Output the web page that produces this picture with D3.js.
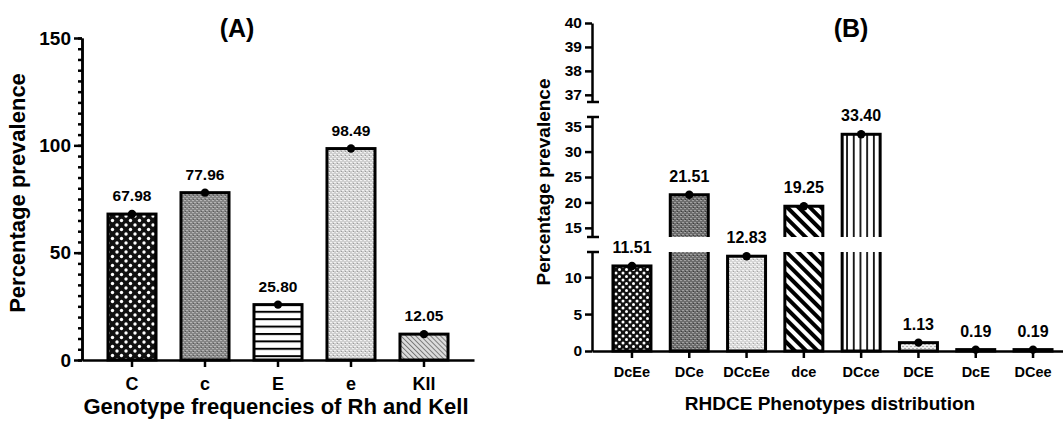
<!DOCTYPE html>
<html>
<head>
<meta charset="utf-8">
<title>Rh and Kell prevalence</title>
<script src="https://cdn.jsdelivr.net/npm/d3@7"></script>
<style>
  body { margin: 0; background: white; }
  text { font-family: "Liberation Sans", Arial, sans-serif; font-weight: bold; fill: black; }
  .axis path, .axis line { stroke: black; stroke-width: 2.5; }
</style>
</head>
<body>
<script>
// (A) genotype frequencies
const genoLabels = ['C', 'c', 'E', 'e', 'Kll'];
const genoValues = [67.98, 77.96, 25.80, 98.49, 12.05];
const genoFills  = ['dotsA', 'grayMid', 'hstripe', 'grayLight', 'hatchGray'];
const genoTicks  = [0, 50, 100, 150];

// (B) RHDCE phenotypes
const phenoLabels = ['DcEe', 'DCe', 'DCcEe', 'dce', 'DCce', 'DCE', 'DcE', 'DCee'];
const phenoValues = [11.51, 21.51, 12.83, 19.25, 33.40, 1.13, 0.19, 0.19];
const phenoFills  = ['dotsB', 'grayDark', 'grayLight2', 'diagBlack', 'vlines', 'paleDash', 'paleDash', 'paleDash'];
const lowTicks = [0, 5, 10];
const midTicks = [15, 20, 25, 30, 35];
const topTicks = [37, 38, 39, 40];

const W = 1063, H = 424;
const svg = d3.select('body').append('svg').attr('width', W).attr('height', H);
const defs = svg.append('defs');

// ---- patterns ----
function pat(id, w, h, transform) {
  const p = defs.append('pattern').attr('id', id).attr('patternUnits', 'userSpaceOnUse')
    .attr('width', w).attr('height', h);
  if (transform) p.attr('patternTransform', transform);
  return p;
}
function dots(id, s, r) {
  const p = pat(id, s, s);
  p.append('rect').attr('width', s).attr('height', s).attr('fill', '#111');
  [[0, 0], [s, 0], [0, s], [s, s], [s / 2, s / 2]].forEach(([x, y]) =>
    p.append('circle').attr('cx', x).attr('cy', y).attr('r', r).attr('fill', 'white'));
}
dots('dotsA', 9, 1.7);
dots('dotsB', 7, 1.5);

function speckle(id, bg, fg, fg2) {
  const p = pat(id, 4, 4);
  p.append('rect').attr('width', 4).attr('height', 4).attr('fill', bg);
  p.append('rect').attr('x', 0).attr('y', 0).attr('width', 2).attr('height', 1).attr('fill', fg);
  p.append('rect').attr('x', 2).attr('y', 2).attr('width', 2).attr('height', 1).attr('fill', fg);
  if (fg2) p.append('rect').attr('x', 1).attr('y', 3).attr('width', 1).attr('height', 1).attr('fill', fg2);
}
speckle('grayMid', '#858585', '#b4b4b4', '#5a5a5a');
speckle('grayLight', '#cfcfcf', '#f2f2f2', '#9a9a9a');
speckle('grayDark', '#6c6c6c', '#a0a0a0', '#3c3c3c');
speckle('grayLight2', '#d6d6d6', '#f4f4f4', '#a4a4a4');
speckle('paleDash', '#eeeeee', '#b0b0b0');

(function () {
  const p = pat('hstripe', 8, 7.4);
  p.append('rect').attr('width', 8).attr('height', 7.4).attr('fill', 'white');
  p.append('rect').attr('width', 8).attr('height', 2).attr('fill', 'black');
})();
(function () {
  const p = pat('hatchGray', 3.5, 3.5, 'rotate(-45)');
  p.append('rect').attr('width', 3.5).attr('height', 3.5).attr('fill', '#dedede');
  p.append('rect').attr('width', 1).attr('height', 3.5).attr('fill', '#777');
})();
(function () {
  const p = pat('diagBlack', 8, 8, 'rotate(-45)');
  p.append('rect').attr('width', 8).attr('height', 8).attr('fill', 'white');
  p.append('rect').attr('width', 4).attr('height', 8).attr('fill', 'black');
})();
(function () {
  const p = pat('vlines', 6.7, 10);
  p.append('rect').attr('width', 6.7).attr('height', 10).attr('fill', 'white');
  p.append('rect').attr('x', 2).attr('width', 1.7).attr('height', 10).attr('fill', 'black');
})();

// ================= Panel A =================
const xA = d3.scaleBand().domain(genoLabels).range([82, 474]).paddingInner(0.342).paddingOuter(0.356);
const yA = d3.scaleLinear().domain([0, 150]).range([360, 38]);
const gA = svg.append('g');

gA.selectAll('rect.bar').data(genoLabels).join('rect')
  .attr('class', 'bar')
  .attr('x', d => xA(d)).attr('width', xA.bandwidth())
  .attr('y', (d, i) => yA(genoValues[i]))
  .attr('height', (d, i) => yA(0) - yA(genoValues[i]))
  .attr('fill', (d, i) => `url(#${genoFills[i]})`)
  .attr('stroke', 'black').attr('stroke-width', 3);

gA.append('g').attr('class', 'axis').attr('transform', 'translate(82,0)')
  .call(d3.axisLeft(yA).tickValues(d3.range(0, 151, 5)).tickSize(4).tickSizeOuter(0).tickFormat(''))
  .call(g => g.selectAll('line').attr('stroke-width', 1.8));
gA.append('g').attr('class', 'axis').attr('transform', 'translate(82,0)')
  .call(d3.axisLeft(yA).tickValues(genoTicks).tickSize(8).tickSizeOuter(0).tickPadding(3))
  .call(g => g.selectAll('text').style('font-size', '19px').style('font-family', null));
gA.append('g').attr('class', 'axis').attr('transform', `translate(0,${yA(0)})`)
  .call(d3.axisBottom(xA).tickSize(7).tickSizeOuter(0).tickPadding(10))
  .call(g => g.selectAll('text').style('font-size', '18px').style('font-family', null));

gA.selectAll('circle.pt').data(genoLabels).join('circle')
  .attr('class', 'pt')
  .attr('cx', d => xA(d) + xA.bandwidth() / 2)
  .attr('cy', (d, i) => yA(genoValues[i])).attr('r', 4.2).attr('fill', 'black');
gA.selectAll('text.val').data(genoLabels).join('text')
  .attr('class', 'val').attr('text-anchor', 'middle').style('font-size', '15.5px')
  .attr('x', d => xA(d) + xA.bandwidth() / 2)
  .attr('y', (d, i) => yA(genoValues[i]) - 13)
  .text((d, i) => genoValues[i].toFixed(2));

gA.append('text').attr('x', 237).attr('y', 37).attr('text-anchor', 'middle')
  .style('font-size', '25px').text('(A)');
gA.append('text').attr('x', 276).attr('y', 414).attr('text-anchor', 'middle')
  .style('font-size', '22px').text('Genotype frequencies of Rh and Kell');
gA.append('text').attr('transform', 'translate(25,193) rotate(-90)').attr('text-anchor', 'middle')
  .style('font-size', '22px').text('Percentage prevalence');

// ================= Panel B =================
const axB = 592;
const xB = d3.scaleBand().domain(phenoLabels).range([axB, 1073]).paddingInner(0.337).paddingOuter(0.366);
const yLow = d3.scaleLinear().domain([0, 13.4]).range([351, 252]);
const yMid = d3.scaleLinear().domain([13.2, 36.8]).range([237, 117]);
const yTop = d3.scaleLinear().domain([36.7, 40]).range([102, 23]);
const segs = [
  { id: 'clipLow', s: yLow, ticks: lowTicks, clipTop: yLow.range()[1], clipBot: yLow.range()[0] + 3 },
  { id: 'clipMid', s: yMid, ticks: midTicks, clipTop: yMid.range()[1] - 3, clipBot: yMid.range()[0] },
  { id: 'clipTop', s: yTop, ticks: topTicks, clipTop: yTop.range()[1] - 3, clipBot: yTop.range()[0] }
];
const gB = svg.append('g');

segs.forEach(seg => {
  defs.append('clipPath').attr('id', seg.id).append('rect')
    .attr('x', axB).attr('width', W - axB)
    .attr('y', seg.clipTop).attr('height', seg.clipBot - seg.clipTop);
  const lo = seg.s.domain()[0];
  const inSeg = phenoLabels.filter((d, i) => phenoValues[i] > lo);
  gB.append('g').attr('clip-path', `url(#${seg.id})`)
    .selectAll('rect').data(inSeg).join('rect')
    .attr('x', d => xB(d)).attr('width', xB.bandwidth())
    .attr('y', d => seg.s(phenoValues[phenoLabels.indexOf(d)]))
    .attr('height', d => Math.max(0, (lo === 0 ? seg.s(0) : seg.clipBot + 10) - seg.s(phenoValues[phenoLabels.indexOf(d)])))
    .attr('fill', d => `url(#${phenoFills[phenoLabels.indexOf(d)]})`)
    .attr('stroke', 'black').attr('stroke-width', 3);

  gB.append('g').attr('class', 'axis').attr('transform', `translate(${axB},0)`)
    .call(d3.axisLeft(seg.s).tickValues(seg.ticks).tickFormat(d3.format('d'))
      .tickSize(7).tickSizeOuter(0).tickPadding(3))
    .call(g => g.selectAll('text').style('font-size', '15.5px').style('font-family', null));
});

// break caps on the y axis
const caps = [yTop.range()[0], yMid.range()[1], yMid.range()[0], yLow.range()[1]];
gB.selectAll('line.cap').data(caps).join('line').attr('class', 'cap')
  .attr('x1', axB - 5).attr('x2', axB + 7).attr('y1', d => d).attr('y2', d => d)
  .attr('stroke', 'black').attr('stroke-width', 2.5);

gB.append('g').attr('class', 'axis').attr('transform', `translate(0,${yLow(0)})`)
  .call(d3.axisBottom(xB).tickSize(7).tickSizeOuter(0).tickPadding(9))
  .call(g => g.selectAll('text').style('font-size', '14.5px').style('font-family', null));

function yB(v) { return v > 36.7 ? yTop(v) : v > 13.4 ? yMid(v) : yLow(v); }
gB.selectAll('circle.pt').data(phenoLabels).join('circle')
  .attr('class', 'pt')
  .attr('cx', d => xB(d) + xB.bandwidth() / 2)
  .attr('cy', (d, i) => yB(phenoValues[i])).attr('r', 4.2).attr('fill', 'black');
gB.selectAll('text.val').data(phenoLabels).join('text')
  .attr('class', 'val').attr('text-anchor', 'middle').style('font-size', '16px')
  .attr('x', d => xB(d) + xB.bandwidth() / 2)
  .attr('y', (d, i) => yB(phenoValues[i]) - 13)
  .text((d, i) => phenoValues[i].toFixed(2));

gB.append('text').attr('x', 851).attr('y', 37).attr('text-anchor', 'middle')
  .style('font-size', '25px').text('(B)');
gB.append('text').attr('x', 830).attr('y', 410).attr('text-anchor', 'middle')
  .style('font-size', '19px').text('RHDCE Phenotypes distribution');
gB.append('text').attr('transform', 'translate(550,182) rotate(-90)').attr('text-anchor', 'middle')
  .style('font-size', '19px').text('Percentage prevalence');
</script>
</body>
</html>
